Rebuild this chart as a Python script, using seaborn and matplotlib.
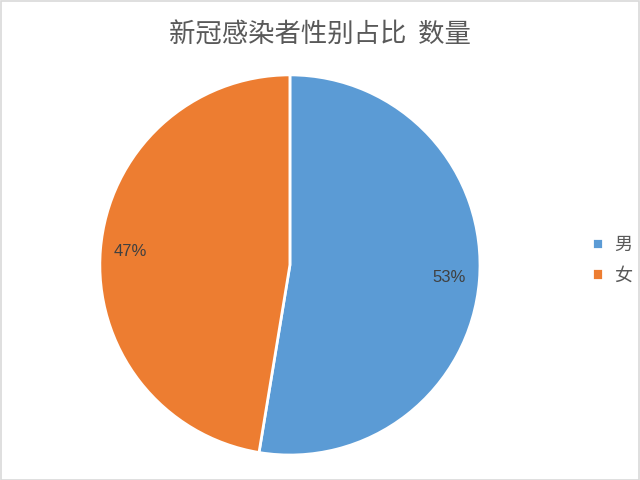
import seaborn as sns
import matplotlib.pyplot as plt
from matplotlib.patches import Rectangle

# chart data
genders = ['男', '女']
shares = [52.6, 47.4]
colors = ['#5B9BD5', '#ED7D31']

sns.set_theme(style="white")
plt.rcParams['font.family'] = ['Noto Sans CJK SC', 'DejaVu Sans']

fig = plt.figure(figsize=(6.4, 4.8), dpi=100)
ax = fig.add_axes([0.156, 0.052, 0.594, 0.792])

wedges, texts, autotexts = ax.pie(
    shares, colors=colors, startangle=90, counterclock=False,
    autopct='%1.0f%%', pctdistance=0.84,
    wedgeprops={'edgecolor': 'white', 'linewidth': 2},
    textprops={'color': '#404040', 'fontsize': 12, 'family': ['Liberation Sans', 'DejaVu Sans']})
ax.set_xlim(-1.0, 1.0)
ax.set_ylim(-1.0, 1.0)
ax.set_aspect('equal')

fig.suptitle('新冠感染者性别占比  数量', x=0.5, y=0.955, fontsize=19, color='#595959')

fig.legend(wedges, genders, loc='center left', bbox_to_anchor=(0.9, 0.458),
           frameon=False, handlelength=0.6, handleheight=0.6, handletextpad=0.6,
           labelspacing=0.7, fontsize=13, labelcolor='#595959')

fig.patches.append(Rectangle((0.001, 0.001), 0.997, 0.997, transform=fig.transFigure,
                             fill=False, edgecolor='#D9D9D9', linewidth=1.2))

fig.savefig('out.png', dpi=100)
